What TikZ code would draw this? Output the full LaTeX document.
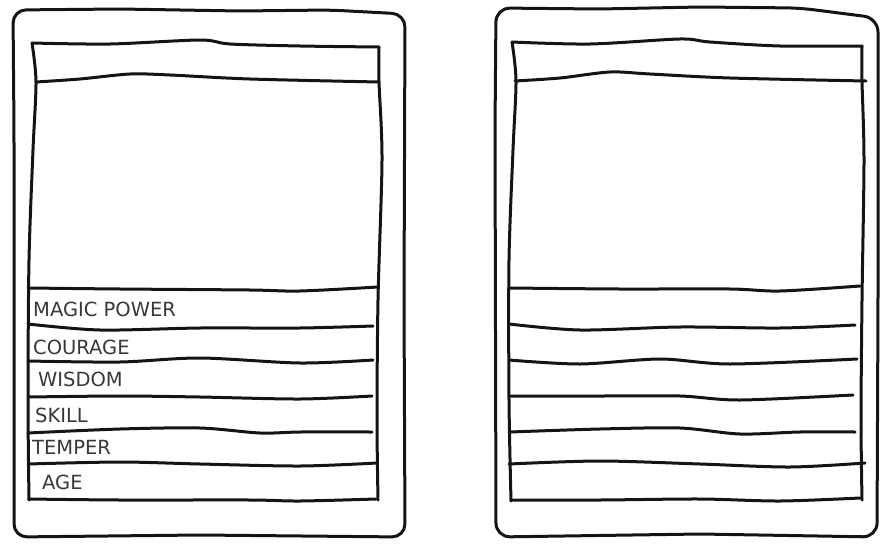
\documentclass[tikz,border=0pt]{standalone}
\usepackage{fontspec}
\setmainfont{DejaVu Sans}
\begin{document}
\begin{tikzpicture}[x=1pt,y=-1pt,
  ink/.style={line width=3pt,draw=black!92,line cap=round,line join=round},
  lbl/.style={anchor=west,inner sep=0pt,text=black!78,font=\fontsize{19.5}{21}\selectfont}]
\useasboundingbox (0,0) rectangle (880,546);
% ---------- left card ----------
\draw[ink,rounded corners=13pt] (14,130) -- (13,10) -- (120,9) -- (240,11) -- (330,10) -- (405,14) -- (404,300) -- (405,537) -- (200,535) -- (14,537) -- cycle;
% inner frame
\draw[ink] plot[smooth] coordinates {(32,43) (110,44) (200,40) (230,44) (300,46) (379,47)};
\draw[ink] plot[smooth] coordinates {(36,82) (80,79) (130,74) (170,75) (250,79) (379,82)};
\draw[ink] plot[smooth] coordinates {(32,43) (36,82) (33,150) (29,260) (28,400) (29,500)};
\draw[ink] plot[smooth] coordinates {(379,47) (379,82) (382,160) (378,300) (377,420) (378,500)};
% stat rows
\draw[ink] plot[smooth] coordinates {(28,288) (120,289) (250,290) (300,291) (378,287)};
\draw[ink] plot[smooth] coordinates {(28,324) (100,330) (200,328) (300,328) (373,326)};
\draw[ink] plot[smooth] coordinates {(28,361) (120,362) (200,358) (300,363) (373,360)};
\draw[ink] plot[smooth] coordinates {(29,397) (120,396) (200,397) (300,399) (372,396)};
\draw[ink] plot[smooth] coordinates {(28,433) (120,429) (200,428) (260,433) (300,432) (372,432)};
\draw[ink] plot[smooth] coordinates {(28,464) (120,462) (200,464) (300,466) (377,463)};
\draw[ink] plot[smooth] coordinates {(29,499) (120,500) (250,500) (300,501) (376,499)};
\node[lbl] (mp) at (33,309) {MAGIC POWER};
\node[lbl] (co) at (33,347) {COURAGE};
\node[lbl] (wi) at (38,379) {WISDOM};
\node[lbl] (sk) at (35,415) {SKILL};
\node[lbl] (te) at (32,447) {TEMPER};
\node[lbl] (ag) at (42,482) {AGE};
% ---------- right card ----------
\draw[ink,rounded corners=14pt] (495,130) -- (496,8) -- (600,9) -- (700,7) -- (800,8) -- (878,18) -- (878,300) -- (877,537) -- (700,534) -- (496,537) -- cycle;
\draw[ink] plot[smooth] coordinates {(512,42) (590,44) (680,39) (710,42) (780,46) (862,46)};
\draw[ink] plot[smooth] coordinates {(515,81) (560,78) (610,72) (650,74) (730,78) (866,81)};
\draw[ink] plot[smooth] coordinates {(512,42) (516,81) (513,150) (509,260) (509,400) (511,501)};
\draw[ink] plot[smooth] coordinates {(862,46) (862,81) (864,160) (862,300) (861,420) (862,500)};
\draw[ink] plot[smooth] coordinates {(509,288) (620,289) (730,289) (780,291) (860,286)};
\draw[ink] plot[smooth] coordinates {(509,324) (580,330) (680,327) (780,328) (855,325)};
\draw[ink] plot[smooth] coordinates {(509,360) (580,364) (660,359) (730,364) (857,359)};
\draw[ink] plot[smooth] coordinates {(509,396) (600,396) (680,396) (740,400) (853,395)};
\draw[ink] plot[smooth] coordinates {(510,432) (600,429) (680,428) (740,434) (800,432) (855,432)};
\draw[ink] plot[smooth] coordinates {(509,464) (600,461) (700,464) (790,467) (865,463)};
\draw[ink] plot[smooth] coordinates {(511,500) (600,500) (700,499) (780,501) (860,498)};
\end{tikzpicture}
\end{document}
